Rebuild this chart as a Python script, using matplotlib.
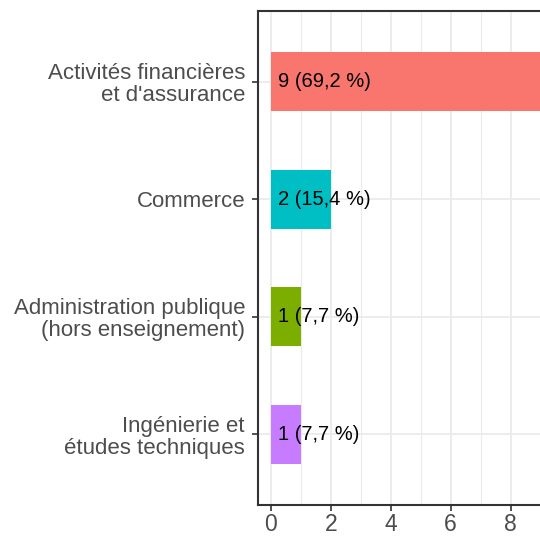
import matplotlib
matplotlib.use("Agg")
import matplotlib.pyplot as plt
from matplotlib.ticker import MultipleLocator

categories = ["Activités financières\net d'assurance", "Commerce",
              "Administration publique\n(hors enseignement)", "Ingénierie et\nétudes techniques"]
values = [9, 2, 1, 1]
labels = ["9 (69,2 %)", "2 (15,4 %)", "1 (7,7 %)", "1 (7,7 %)"]
colors = ["#F8766D", "#00BFC4", "#7CAE00", "#C77CFF"]

plt.rcParams['font.family'] = ['Liberation Sans', 'DejaVu Sans']

fig = plt.figure(figsize=(5.4, 5.37), dpi=100)
W, H = 540, 537
left_px, right_px = 257.5, 554.0
top_px, bot_px = 11.0, 505.0
ax = fig.add_axes([left_px / W, 1 - bot_px / H, (right_px - left_px) / W, (bot_px - top_px) / H])

pos = list(range(1, len(categories) + 1))
ax.barh(pos, values, height=0.5, color=colors, zorder=2)
for p, lab in zip(pos, labels):
    ax.annotate(lab, xy=(0, p), xytext=(5, 0), textcoords='offset points',
                ha='left', va='center', fontsize=14.5, color='black', zorder=3)

ax.set_xlim(-0.45, 9.45)
ax.set_ylim(4.6, 0.4)
ax.set_yticks(pos)
ax.set_yticklabels(categories, fontsize=16, color='#4D4D4D', linespacing=1.05,
                   multialignment='right')
ax.xaxis.set_major_locator(MultipleLocator(2))
ax.xaxis.set_minor_locator(MultipleLocator(1))
ax.tick_params(axis='x', labelsize=16.5, labelcolor='#4D4D4D', color='#333333', length=4, width=1.2, pad=2)
ax.tick_params(axis='x', which='minor', length=0)
ax.tick_params(axis='y', color='#333333', length=4, width=1.2, pad=5)

ax.grid(True, which='major', color='#EBEBEB', linewidth=1.3, zorder=0)
ax.grid(True, which='minor', axis='x', color='#EBEBEB', linewidth=0.8, zorder=0)
ax.set_axisbelow(True)
for s in ax.spines.values():
    s.set_color('#333333')
    s.set_linewidth(1.5)

fig.savefig("out.png", dpi=100)
